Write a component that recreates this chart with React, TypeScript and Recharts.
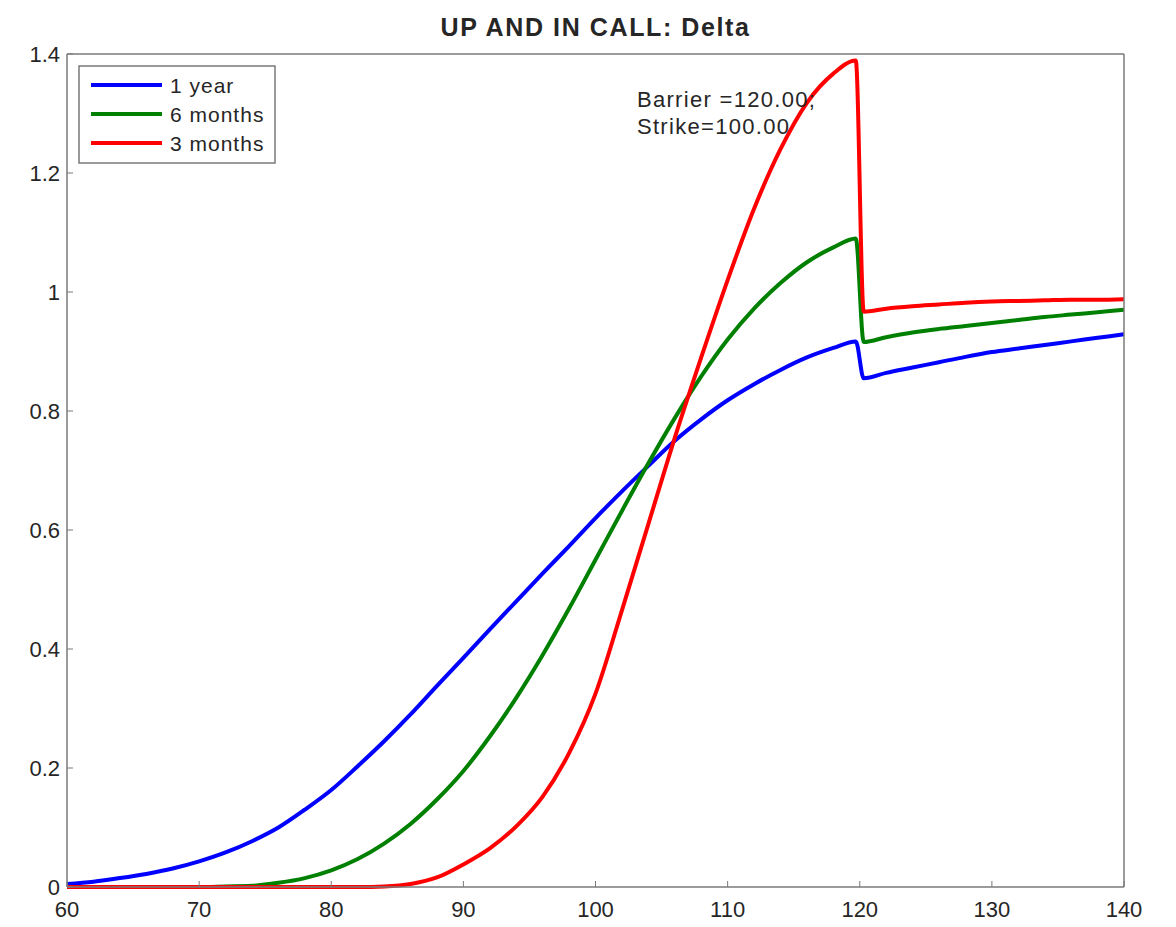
import { LineChart, Line, XAxis, YAxis, Legend, ReferenceDot } from 'recharts';

const FONT = '"Liberation Sans", Arial, Helvetica, sans-serif';

// spot price grid (barrier jump between 119.7 and 120.3)
const SPOT = [
  60, 62, 64, 66, 68, 70, 72, 74, 76, 78,
  80, 82, 84, 86, 88, 90, 92, 94, 96, 98,
  100, 102, 104, 106, 108, 110, 112, 114, 116, 118,
  119.7, 120.3,
  122, 124, 126, 128, 130, 132, 134, 136, 138, 140,
];

const ONE_YEAR = [
  0.005, 0.009, 0.015, 0.022, 0.031, 0.043, 0.058, 0.077, 0.1, 0.13,
  0.163, 0.203, 0.245, 0.29, 0.338, 0.385, 0.433, 0.48, 0.527, 0.573,
  0.62, 0.665, 0.708, 0.75, 0.786, 0.818, 0.845, 0.869, 0.89, 0.906,
  0.917, 0.855,
  0.864, 0.873, 0.882, 0.891, 0.899, 0.905, 0.911, 0.917, 0.923, 0.929,
];

const SIX_MONTHS = [
  0, 0, 0, 0, 0, 0, 0.001, 0.002, 0.007, 0.015,
  0.028, 0.047, 0.073, 0.106, 0.147, 0.195, 0.253, 0.318, 0.39, 0.468,
  0.55, 0.632, 0.712, 0.788, 0.858, 0.92, 0.972, 1.015, 1.05, 1.075,
  1.09, 0.916,
  0.924, 0.932, 0.938, 0.943, 0.948, 0.953, 0.958, 0.962, 0.966, 0.97,
];

const THREE_MONTHS = [
  0, 0, 0, 0, 0, 0, 0, 0, 0, 0,
  0, 0, 0.001, 0.005, 0.016, 0.038, 0.065, 0.102, 0.152, 0.225,
  0.325, 0.465, 0.61, 0.755, 0.89, 1.02, 1.14, 1.24, 1.318, 1.367,
  1.389, 0.967,
  0.972, 0.976, 0.979, 0.982, 0.984, 0.985, 0.986, 0.987, 0.987, 0.988,
];

const X_TICKS = [60, 70, 80, 90, 100, 110, 120, 130, 140];
const Y_TICKS = [0, 0.2, 0.4, 0.6, 0.8, 1, 1.2, 1.4];

const SERIES = [
  { key: 'oneYear', name: '1 year', color: '#0000ff' },
  { key: 'sixMonths', name: '6 months', color: '#008000' },
  { key: 'threeMonths', name: '3 months', color: '#ff0000' },
];

const chartData = SPOT.map((s, i) => ({
  spot: s,
  oneYear: ONE_YEAR[i],
  sixMonths: SIX_MONTHS[i],
  threeMonths: THREE_MONTHS[i],
}));

const AXIS = '#7a7a7a';
const TEXT = '#262626';

const tickStyle = { fill: TEXT, fontSize: 22, fontFamily: FONT };

function LegendBox() {
  return (
    <svg width={198} height={99} style={{ display: 'block' }}>
      <rect x={1} y={1} width={196} height={97} fill="#fff" stroke={AXIS} strokeWidth={1.5} />
      {SERIES.map((s, i) => {
        const y = 20 + i * 29;
        return (
          <g key={s.key}>
            <line x1={13} x2={84} y1={y} y2={y} stroke={s.color} strokeWidth={4} />
            <text
              x={92}
              y={y + 8}
              fill={TEXT}
              fontSize={21}
              fontFamily={FONT}
              letterSpacing={1}
            >
              {s.name}
            </text>
          </g>
        );
      })}
    </svg>
  );
}

function Annotation(props: any) {
  const { cx, cy } = props;
  return (
    <text fill={TEXT} fontSize={22} fontFamily={FONT} letterSpacing={1.3}>
      <tspan x={cx} y={cy}>Barrier =120.00;</tspan>
      <tspan x={cx} y={cy + 27}>Strike=100.00</tspan>
    </text>
  );
}

export default function App() {
  return (
    <div
      style={{
        position: 'absolute',
        left: 0,
        top: 0,
        width: 1176,
        height: 927,
        background: '#fff',
      }}
    >
      {/* title */}
      <div
        style={{
          position: 'absolute',
          left: 67,
          width: 1057,
          top: 13,
          textAlign: 'center',
          fontFamily: FONT,
          fontWeight: 'bold',
          fontSize: 25,
          letterSpacing: 1.6,
          color: TEXT,
        }}
      >
        UP AND IN CALL: Delta
      </div>

      <LineChart
        width={1176}
        height={927}
        data={chartData}
        margin={{ top: 53, right: 51, left: 7, bottom: 0 }}
      >
        <XAxis
          dataKey="spot"
          type="number"
          domain={[60, 140]}
          ticks={X_TICKS}
          height={40}
          tickSize={-6}
          tickMargin={20}
          tick={tickStyle}
          axisLine={{ stroke: AXIS, strokeWidth: 1.5 }}
          tickLine={{ stroke: AXIS }}
        />
        {/* top border with inward ticks */}
        <XAxis
          xAxisId="top"
          orientation="top"
          type="number"
          domain={[60, 140]}
          ticks={X_TICKS}
          height={1}
          tickSize={-6}
          tick={false}
          axisLine={{ stroke: AXIS, strokeWidth: 1.5 }}
          tickLine={{ stroke: AXIS }}
        />
        <YAxis
          type="number"
          domain={[0, 1.4]}
          ticks={Y_TICKS}
          width={60}
          tickSize={-6}
          tickMargin={13}
          tick={tickStyle}
          axisLine={{ stroke: AXIS, strokeWidth: 1.5 }}
          tickLine={{ stroke: AXIS }}
        />
        {/* right border with inward ticks */}
        <YAxis
          yAxisId="right"
          orientation="right"
          type="number"
          domain={[0, 1.4]}
          ticks={Y_TICKS}
          width={1}
          tickSize={-6}
          tick={false}
          axisLine={{ stroke: AXIS, strokeWidth: 1.5 }}
          tickLine={{ stroke: AXIS }}
        />

        {SERIES.map((s) => (
          <Line
            key={s.key}
            dataKey={s.key}
            name={s.name}
            type="monotone"
            stroke={s.color}
            strokeWidth={4}
            dot={false}
            activeDot={false}
            isAnimationActive={false}
          />
        ))}

        <ReferenceDot x={103.14} y={1.311} r={0} shape={Annotation} />

        <Legend
          layout="vertical"
          align="center"
          verticalAlign="middle"
          wrapperStyle={{ left: 78, top: 65, width: 198, height: 99 }}
          content={() => <LegendBox />}
        />
      </LineChart>
    </div>
  );
}
